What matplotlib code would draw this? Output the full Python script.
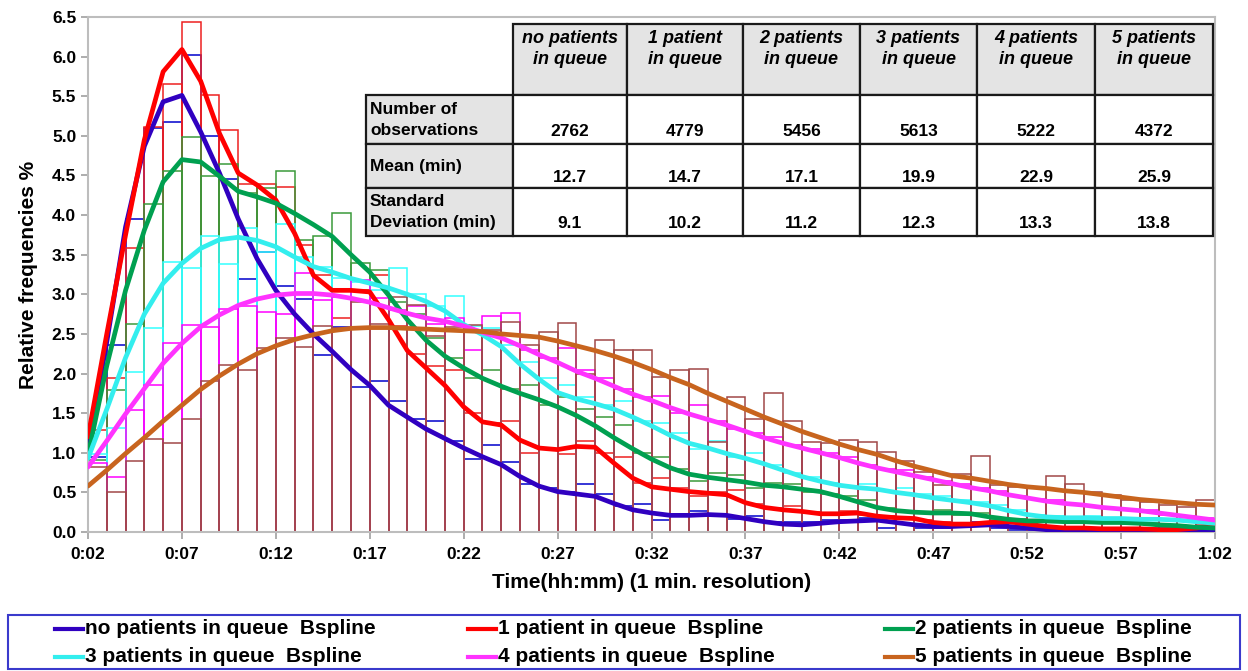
import matplotlib
matplotlib.use("Agg")
import matplotlib.pyplot as plt
from matplotlib.patches import Rectangle
from matplotlib.lines import Line2D
import numpy as np

plt.rcParams['font.family'] = ['Liberation Sans', 'DejaVu Sans']
plt.rcParams['font.weight'] = 'bold'

# ---------------- data ----------------
minutes = list(range(2, 63))           # curve points (minutes)
bin_left = list(range(2, 62))          # histogram bins [t, t+1)

xtick_minutes = list(range(2, 63, 5))
xtick_labels = ["0:02", "0:07", "0:12", "0:17", "0:22", "0:27", "0:32",
                "0:37", "0:42", "0:47", "0:52", "0:57", "1:02"]
ytick_values = [0.0, 0.5, 1.0, 1.5, 2.0, 2.5, 3.0, 3.5, 4.0, 4.5, 5.0, 5.5, 6.0, 6.5]

series_names = ["no patients in queue  Bspline", "1 patient in queue  Bspline",
                "2 patients in queue  Bspline", "3 patients in queue  Bspline",
                "4 patients in queue  Bspline", "5 patients in queue  Bspline"]

curve_q0 = [1.05, 2.4, 3.85, 4.87, 5.43, 5.51, 5.05, 4.53, 3.95, 3.45, 3.05, 2.75, 2.5,
            2.28, 2.05, 1.85, 1.6, 1.45, 1.3, 1.18, 1.06, 0.95, 0.85, 0.7, 0.58, 0.51,
            0.48, 0.45, 0.36, 0.28, 0.24, 0.21, 0.21, 0.22, 0.21, 0.17, 0.13, 0.10, 0.09,
            0.11, 0.13, 0.14, 0.15, 0.12, 0.09, 0.07, 0.07, 0.08, 0.09, 0.07, 0.05, 0.03,
            0.02, 0.02, 0.02, 0.02, 0.02, 0.03, 0.03, 0.03, 0.03]
curve_q1 = [1.2, 2.5, 3.75, 4.95, 5.81, 6.09, 5.69, 5.03, 4.53, 4.38, 4.19, 3.77, 3.24,
            3.05, 3.05, 3.03, 2.68, 2.29, 2.07, 1.85, 1.58, 1.39, 1.35, 1.16, 1.06, 1.04,
            1.08, 1.07, 0.87, 0.68, 0.57, 0.54, 0.51, 0.49, 0.47, 0.37, 0.31, 0.28, 0.26,
            0.23, 0.23, 0.24, 0.2, 0.18, 0.17, 0.12, 0.10, 0.10, 0.12, 0.13, 0.10, 0.07,
            0.05, 0.05, 0.04, 0.04, 0.04, 0.03, 0.03, 0.05, 0.09]
curve_q2 = [0.97, 2.1, 3.05, 3.81, 4.42, 4.70, 4.67, 4.49, 4.30, 4.23, 4.15, 4.02, 3.88,
            3.73, 3.50, 3.28, 2.99, 2.68, 2.42, 2.22, 2.07, 1.94, 1.84, 1.75, 1.67, 1.58,
            1.47, 1.34, 1.19, 1.05, 0.92, 0.81, 0.73, 0.69, 0.66, 0.63, 0.59, 0.57, 0.54,
            0.51, 0.45, 0.38, 0.31, 0.27, 0.25, 0.24, 0.24, 0.23, 0.19, 0.16, 0.14, 0.14,
            0.13, 0.13, 0.12, 0.12, 0.11, 0.09, 0.08, 0.06, 0.05]
curve_q3 = [0.93, 1.55, 2.2, 2.75, 3.14, 3.39, 3.58, 3.69, 3.72, 3.68, 3.6, 3.47, 3.35,
            3.28, 3.20, 3.14, 3.08, 3.0, 2.91, 2.79, 2.62, 2.49, 2.34, 2.12, 1.93, 1.76,
            1.68, 1.62, 1.55, 1.45, 1.34, 1.22, 1.12, 1.06, 0.99, 0.93, 0.86, 0.78, 0.70,
            0.64, 0.59, 0.56, 0.54, 0.5, 0.47, 0.43, 0.40, 0.37, 0.33, 0.27, 0.22, 0.19,
            0.18, 0.18, 0.17, 0.17, 0.16, 0.16, 0.15, 0.13, 0.11]
curve_q4 = [0.82, 1.15, 1.49, 1.81, 2.13, 2.38, 2.59, 2.74, 2.86, 2.94, 2.99, 3.01, 3.01,
            2.99, 2.95, 2.90, 2.83, 2.76, 2.70, 2.66, 2.60, 2.52, 2.45, 2.35, 2.24, 2.14,
            2.03, 1.94, 1.84, 1.74, 1.66, 1.57, 1.49, 1.42, 1.35, 1.27, 1.19, 1.12, 1.06,
            1.0, 0.94, 0.87, 0.81, 0.76, 0.71, 0.66, 0.61, 0.56, 0.52, 0.47, 0.43, 0.39,
            0.36, 0.34, 0.31, 0.29, 0.27, 0.24, 0.21, 0.18, 0.15]
curve_q5 = [0.58, 0.78, 0.99, 1.19, 1.40, 1.60, 1.80, 1.97, 2.12, 2.25, 2.35, 2.43, 2.49,
            2.54, 2.57, 2.58, 2.58, 2.57, 2.56, 2.55, 2.54, 2.53, 2.50, 2.48, 2.46, 2.41,
            2.35, 2.29, 2.22, 2.14, 2.05, 1.95, 1.86, 1.75, 1.65, 1.55, 1.45, 1.36, 1.27,
            1.19, 1.11, 1.04, 0.98, 0.90, 0.83, 0.77, 0.71, 0.68, 0.64, 0.60, 0.57, 0.55,
            0.52, 0.50, 0.47, 0.44, 0.41, 0.39, 0.37, 0.35, 0.34]

hist_q0 = [0.95, 2.36, 3.95, 5.10, 5.18, 6.02, 5.0, 4.46, 3.19, 3.54, 3.10, 2.94, 2.23,
           2.59, 1.83, 1.9, 1.65, 1.42, 1.40, 1.15, 0.92, 1.1, 0.88, 0.6, 0.55, 0.5, 0.6,
           0.48, 0.33, 0.35, 0.15, 0.2, 0.26, 0.21, 0.16, 0.2, 0.12, 0.13, 0.12, 0.15,
           0.15, 0.18, 0.05, 0.1, 0.05, 0.05, 0.1, 0.12, 0.05, 0.02, 0.03, 0.03, 0.02,
           0.02, 0.03, 0.01, 0.02, 0.03, 0.02, 0.02]
hist_q1 = [1.29, 1.94, 3.59, 5.11, 5.66, 6.44, 5.51, 5.07, 4.39, 4.39, 4.35, 3.62, 3.24,
           2.70, 3.05, 3.24, 2.6, 2.25, 2.1, 2.04, 1.5, 1.37, 1.40, 1.0, 1.05, 0.98, 1.15,
           1.0, 0.95, 0.62, 0.68, 0.55, 0.45, 0.5, 0.53, 0.35, 0.3, 0.33, 0.25, 0.22,
           0.27, 0.22, 0.2, 0.18, 0.15, 0.12, 0.1, 0.08, 0.12, 0.14, 0.08, 0.06, 0.05,
           0.05, 0.04, 0.04, 0.03, 0.03, 0.05, 0.1]
hist_q2 = [0.91, 1.79, 2.63, 4.14, 4.55, 4.98, 4.49, 4.64, 4.28, 4.34, 4.55, 3.69, 3.74,
           4.02, 3.39, 3.31, 2.9, 2.75, 2.45, 2.19, 1.95, 2.05, 1.8, 1.85, 1.6, 1.7, 1.55,
           1.45, 1.35, 1.0, 0.95, 0.8, 0.65, 0.75, 0.72, 0.55, 0.62, 0.6, 0.5, 0.48, 0.45,
           0.4, 0.3, 0.26, 0.24, 0.28, 0.22, 0.24, 0.15, 0.16, 0.14, 0.15, 0.13, 0.14,
           0.12, 0.1, 0.11, 0.08, 0.07, 0.06]
hist_q3 = [0.98, 1.31, 2.02, 2.57, 3.41, 3.33, 3.73, 3.38, 3.84, 3.54, 3.89, 3.47, 3.35,
           3.2, 3.15, 3.05, 3.33, 3.01, 2.85, 2.98, 2.6, 2.57, 2.36, 2.14, 1.95, 1.85,
           1.7, 1.6, 1.65, 1.4, 1.38, 1.25, 1.05, 1.15, 0.95, 1.0, 0.85, 0.75, 0.7, 0.62,
           0.58, 0.6, 0.52, 0.55, 0.48, 0.45, 0.4, 0.38, 0.34, 0.28, 0.22, 0.2, 0.18, 0.2,
           0.16, 0.17, 0.15, 0.16, 0.14, 0.12]
hist_q4 = [0.87, 0.70, 1.54, 1.86, 2.39, 2.61, 2.59, 2.82, 2.85, 2.78, 2.75, 3.27, 2.93,
           2.97, 3.18, 2.95, 2.8, 2.85, 2.63, 2.7, 2.30, 2.72, 2.77, 2.3, 2.2, 2.32, 2.05,
           1.95, 1.8, 1.7, 1.72, 1.5, 1.6, 1.4, 1.3, 1.25, 1.2, 1.1, 1.05, 1.0, 0.95,
           0.85, 0.8, 0.78, 0.7, 0.65, 0.6, 0.55, 0.52, 0.45, 0.42, 0.4, 0.35, 0.33, 0.3,
           0.28, 0.28, 0.22, 0.2, 0.18]
hist_q5 = [0.82, 0.50, 0.89, 1.18, 1.12, 1.42, 1.91, 2.11, 2.04, 2.32, 2.45, 2.33, 2.60,
           2.58, 2.90, 2.62, 2.97, 2.87, 2.47, 2.59, 2.61, 2.55, 2.65, 2.36, 2.52, 2.64,
           1.99, 2.42, 2.30, 2.30, 1.96, 2.04, 2.06, 1.14, 1.70, 1.42, 1.75, 1.40, 1.14,
           1.12, 1.16, 1.14, 1.01, 0.89, 0.76, 0.59, 0.73, 0.96, 0.59, 0.57, 0.57, 0.71,
           0.60, 0.51, 0.47, 0.40, 0.38, 0.34, 0.32, 0.41]

table_columns = ["no patients\nin queue", "1 patient\nin queue", "2 patients\nin queue",
                 "3 patients\nin queue", "4 patients\nin queue", "5 patients\nin queue"]
table_rows = ["Number of\nobservations", "Mean (min)", "Standard\nDeviation (min)"]
n_obs = ["2762", "4779", "5456", "5613", "5222", "4372"]
mean_min = ["12.7", "14.7", "17.1", "19.9", "22.9", "25.9"]
std_min = ["9.1", "10.2", "11.2", "12.3", "13.3", "13.8"]

# ---------------- styles ----------------
curve_colors = ["#3000c0", "#ff0000", "#00a050", "#33eeee", "#ff33ff", "#c8641e"]
bar_colors = ["#0000cc", "#ee2020", "#3a9a3a", "#33ffff", "#ff00ff", "#a04848"]

W, H = 1248, 671
fig = plt.figure(figsize=(W / 100, H / 100), dpi=100)
fig.patch.set_facecolor("white")


def fx(px):
    return px / W


def fy(py):
    return 1 - py / H


ax = fig.add_axes([fx(88), fy(532), fx(1215) - fx(88), fy(17) - fy(532)])

curves = [curve_q0, curve_q1, curve_q2, curve_q3, curve_q4, curve_q5]
hists = [hist_q0, hist_q1, hist_q2, hist_q3, hist_q4, hist_q5]

for h, c in zip(hists, bar_colors):
    ax.bar(bin_left, h, width=1.0, align="edge", fill=False, edgecolor=c,
           linewidth=1.1, zorder=2)

curve_lines = []
for y, c, n in zip(curves, curve_colors, series_names):
    ln, = ax.plot(minutes, y, color=c, lw=3.4, zorder=3, label=n,
                  solid_capstyle="round", solid_joinstyle="round")
    curve_lines.append(ln)

ax.set_xlim(2, 62)
ax.set_ylim(0, 6.5)
ax.set_xticks(xtick_minutes)
ax.set_xticklabels(xtick_labels)
ax.set_yticks(ytick_values)
ax.set_yticklabels([f"{v:.1f}" for v in ytick_values])
ax.tick_params(axis="both", labelsize=12.5, colors="#a0a0a0", labelcolor="black",
               length=5, width=1.2)
ax.tick_params(axis="x", pad=6)
for s in ax.spines.values():
    s.set_color("#bdbdbd")
    s.set_linewidth(1.5)

ax.set_xlabel("Time(hh:mm) (1 min. resolution)", fontsize=15, fontweight="bold",
              labelpad=8)
ax.set_ylabel("Relative frequencies %", fontsize=15, fontweight="bold", labelpad=10)

# ---------------- table (figure pixel layout) ----------------
col_edges = [366, 513, 627, 743, 860, 977, 1095, 1213]
row_edges = [24, 95, 144, 188, 236]
gray = "#e4e4e4"
for i in range(len(col_edges) - 1):
    for j in range(len(row_edges) - 1):
        if i == 0 and j == 0:
            continue
        fill = gray if (i == 0 or j == 0) else "white"
        x0, x1 = col_edges[i], col_edges[i + 1]
        y0, y1 = row_edges[j], row_edges[j + 1]
        fig.add_artist(Rectangle((fx(x0), fy(y1)), fx(x1) - fx(x0), fy(y0) - fy(y1),
                                 transform=fig.transFigure, facecolor=fill,
                                 edgecolor="#1a1a1a", linewidth=1.6, zorder=10))

for i, lab in enumerate(table_columns):
    xc = (col_edges[i + 1] + col_edges[i + 2]) / 2
    fig.text(fx(xc), fy(49), lab, ha="center", va="center", fontsize=13,
             fontweight="bold", fontstyle="italic", linespacing=1.35, zorder=11)

row_label_y = [120, 166, 212]
for j, lab in enumerate(table_rows):
    fig.text(fx(370), fy(row_label_y[j]), lab, ha="left", va="center", fontsize=12.5,
             fontweight="bold", linespacing=1.45, zorder=11)

value_rows = [n_obs, mean_min, std_min]
value_y = [132, 178, 224]
for j, vals in enumerate(value_rows):
    for i, v in enumerate(vals):
        xc = (col_edges[i + 1] + col_edges[i + 2]) / 2
        fig.text(fx(xc), fy(value_y[j]), v, ha="center", va="center", fontsize=12.5,
                 fontweight="bold", zorder=11)

# ---------------- legend ----------------
fig.add_artist(Rectangle((fx(8), fy(669)), fx(1240) - fx(8), fy(615) - fy(669),
                         transform=fig.transFigure, facecolor="white",
                         edgecolor="#3a3acc", linewidth=1.5, zorder=5))
leg_x = [55, 468, 885]
leg_y = [629, 657]
for k, (ln, name) in enumerate(zip(curve_lines, series_names)):
    r, c = divmod(k, 3)
    x0, yy = leg_x[c], leg_y[r]
    fig.add_artist(Line2D([fx(x0), fx(x0 + 28)], [fy(yy), fy(yy)],
                          transform=fig.transFigure, color=ln.get_color(), lw=3.0,
                          zorder=6))
    fig.text(fx(x0 + 30), fy(yy), name, ha="left", va="center", fontsize=15,
             fontweight="bold", zorder=6)

fig.savefig("out.png", dpi=100, facecolor="white")
